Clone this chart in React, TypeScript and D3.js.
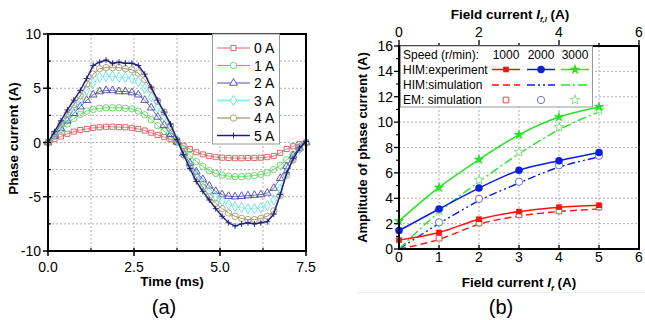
import * as d3 from "d3";
import React from "react";

// ---- (a) phase current waveforms ----
const timeMs = [0, 0.1875, 0.375, 0.5625, 0.75, 0.9375, 1.125, 1.3125, 1.5, 1.6875, 1.875, 2.0625, 2.25, 2.4375, 2.625, 2.8125, 3, 3.1875, 3.375, 3.5625, 3.75, 3.9375, 4.125, 4.3125, 4.5, 4.6875, 4.875, 5.0625, 5.25, 5.4375, 5.625, 5.8125, 6, 6.1875, 6.375, 6.5625, 6.75, 6.9375, 7.125, 7.3125, 7.5];
const current0A = [0, 0.3, 0.55, 0.8, 1.0, 1.15, 1.25, 1.35, 1.4, 1.45, 1.45, 1.42, 1.4, 1.35, 1.25, 1.1, 0.9, 0.7, 0.5, 0.3, 0.05, -0.3, -0.6, -0.9, -1.1, -1.25, -1.35, -1.4, -1.42, -1.45, -1.45, -1.43, -1.42, -1.4, -1.35, -1.25, -0.95, -0.6, -0.35, -0.15, 0];
const current1A = [0, 0.6, 1.2, 1.7, 2.2, 2.6, 2.9, 3.05, 3.15, 3.2, 3.2, 3.2, 3.15, 3.1, 2.9, 2.55, 2.1, 1.55, 1.05, 0.55, 0.0, -0.6, -1.2, -1.75, -2.2, -2.6, -2.85, -3.0, -3.1, -3.15, -3.15, -3.1, -3.05, -2.95, -2.8, -2.5, -2.1, -1.6, -1.1, -0.55, 0];
const current2A = [0, 0.6, 1.3, 2.0, 2.7, 3.3, 3.9, 4.4, 4.7, 4.8, 4.8, 4.7, 4.7, 4.6, 4.4, 3.9, 3.2, 2.35, 1.6, 0.75, 0.05, -1.0, -1.9, -2.7, -3.4, -4.0, -4.5, -4.8, -4.95, -5.0, -4.95, -4.9, -4.85, -4.8, -4.65, -4.2, -3.3, -2.2, -1.2, -0.5, 0];
const current3A = [0, 0.7, 1.5, 2.3, 3.1, 3.9, 4.8, 5.5, 6.0, 6.1, 6.1, 6.0, 6.0, 5.9, 5.6, 5.0, 4.2, 3.2, 2.4, 1.3, 0.2, -1.1, -2.1, -3.0, -3.8, -4.5, -5.0, -5.4, -5.7, -5.9, -6.0, -6.1, -6.1, -6.0, -5.8, -5.3, -4.3, -2.8, -1.5, -0.6, 0];
const current4A = [0, 0.8, 1.7, 2.6, 3.5, 4.3, 5.4, 6.3, 6.8, 6.9, 6.9, 6.9, 6.8, 6.7, 6.4, 5.8, 4.9, 3.8, 2.8, 1.5, 0.2, -1.1, -2.2, -3.2, -4.1, -5.0, -5.6, -6.1, -6.5, -6.8, -7.0, -7.1, -7.1, -7.0, -6.8, -6.3, -4.9, -3.0, -1.6, -0.6, 0];
const current5A = [0, 1.0, 2.0, 3.0, 3.9, 4.8, 5.9, 7.1, 7.4, 7.6, 7.3, 7.4, 7.3, 7.3, 7.1, 6.3, 5.1, 3.9, 2.8, 1.7, 0.3, -1.1, -2.4, -3.6, -4.5, -5.3, -6.1, -6.8, -7.4, -7.7, -7.5, -7.4, -7.5, -7.4, -7.3, -6.6, -4.8, -2.8, -1.5, -0.5, 0.1];
const fieldLabels = ["0 A", "1 A", "2 A", "3 A", "4 A", "5 A"];
const timeTicks = [0, 2.5, 5, 7.5];
const phaseTicks = [-10, -5, 0, 5, 10];

// ---- (b) amplitude vs field current ----
const fieldCurrent = [0, 1, 2, 3, 4, 5];
const himExp1000 = [0.7, 1.3, 2.35, 2.95, 3.3, 3.45];
const himExp2000 = [1.45, 3.15, 4.8, 6.2, 6.95, 7.6];
const himExp3000 = [2.2, 4.85, 7.05, 9.0, 10.4, 11.2];
const himSim1000 = [0, 0.75, 1.95, 2.6, 2.95, 3.15];
const himSim2000 = [0, 2.0, 3.8, 5.2, 6.45, 7.25];
const himSim3000 = [0, 2.9, 5.3, 7.5, 9.4, 10.8];
const emField = [1, 2, 3, 4, 5];
const emSim1000 = [0.85, 2.05, 2.7, 3.0, 3.3];
const emSim2000 = [2.1, 3.95, 5.3, 6.6, 7.35];
const emSim3000 = [3.0, 5.45, 7.65, 9.6, 10.95];
const speeds = ["1000", "2000", "3000"];
const ampTicks = [0, 2, 4, 6, 8, 10, 12, 14, 16];
const fieldTicks = [0, 1, 2, 3, 4, 5, 6];
const topTicks = [0, 2, 4, 6];

const FONT = "'Liberation Sans', Arial, Helvetica, sans-serif";

const sym = (t: d3.SymbolType, s: number) => d3.symbol().type(t).size(s)() as string;
const shapes: Record<string, string> = {
  square: sym(d3.symbolSquare, 26),
  circle: sym(d3.symbolCircle, 32),
  triangle: sym(d3.symbolTriangle, 26),
  diamond: sym(d3.symbolDiamond, 30),
  plus: "M-3,0H3M0,-3V3",
  fsquare: sym(d3.symbolSquare, 32),
  fcircle: sym(d3.symbolCircle, 44),
  fstar: sym(d3.symbolStar, 38),
  ostar: sym(d3.symbolStar, 30),
  osquare: sym(d3.symbolSquare, 32),
  ocircle: sym(d3.symbolCircle, 42),
};

function LeftChart() {
  const x = d3.scaleLinear().domain([0, 7.5]).range([48, 306]);
  const y = d3.scaleLinear().domain([-10, 10]).range([251, 34]);
  const series = [current0A, current1A, current2A, current3A, current4A, current5A];
  const look = [
    { mark: "#cf5b5b", line: "#e06666", shape: "square", lw: 1 },
    { mark: "#62d062", line: "#3cdc3c", shape: "circle", lw: 1 },
    { mark: "#4848a8", line: "#5050a8", shape: "triangle", lw: 1 },
    { mark: "#6adede", line: "#8af0f0", shape: "diamond", lw: 2 },
    { mark: "#a8996c", line: "#8f7e45", shape: "circle", lw: 1 },
    { mark: "#1c1c82", line: "#1c1c82", shape: "plus", lw: 1.3 },
  ];
  const line = d3.line<number>().x((_, i) => x(timeMs[i])).y((d) => y(d));
  const gx = [1.25, 2.5, 3.75, 5, 6.25];
  const gy = [-7.5, -5, -2.5, 0, 2.5, 5, 7.5];
  const [x0, x1] = x.range();
  const [y0, y1] = y.range();
  const legX = 212, legY = 34, legW = 67, legH = 110;
  return (
    <g fontFamily={FONT}>
      {gx.map((v) => (
        <line key={"gx" + v} x1={x(v)} x2={x(v)} y1={y1} y2={y0} stroke="#b0b0b0" strokeDasharray="2,2" />
      ))}
      {gy.map((v) => (
        <line key={"gy" + v} x1={x0} x2={x1} y1={y(v)} y2={y(v)} stroke="#b0b0b0" strokeDasharray="2,2" />
      ))}
      {series.map((s, k) => (
        <g key={"s" + k}>
          <path d={line(s) as string} fill="none" stroke={look[k].line} strokeWidth={k === 5 ? 1.4 : 0.8} />
          {s.map((v, i) => (
            <path key={i} d={shapes[look[k].shape]} transform={`translate(${x(timeMs[i])},${y(v)})`}
              fill="none" stroke={look[k].mark} strokeWidth={0.9} />
          ))}
        </g>
      ))}
      {/* frame */}
      <rect x={x0} y={y1} width={x1 - x0} height={y0 - y1} fill="none" stroke="#000" strokeWidth={2} />
      {/* ticks */}
      {timeTicks.map((v) => (
        <g key={"tx" + v}>
          <line x1={x(v)} x2={x(v)} y1={y0 - 3} y2={y0 + 5} stroke="#000" strokeWidth={1.5} />
          <text x={x(v)} y={272} fontSize={14} textAnchor="middle">{v.toFixed(1)}</text>
        </g>
      ))}
      {[1.25, 3.75, 6.25].map((v) => (
        <line key={"mx" + v} x1={x(v)} x2={x(v)} y1={y0} y2={y0 - 3} stroke="#000" strokeWidth={1.2} />
      ))}
      {phaseTicks.map((v) => (
        <g key={"ty" + v}>
          <line x1={x0 - 5} x2={x0 + 3} y1={y(v)} y2={y(v)} stroke="#000" strokeWidth={1.5} />
          <text x={41} y={y(v) + 5} fontSize={14} textAnchor="end">{v}</text>
        </g>
      ))}
      {[-7.5, -2.5, 2.5, 7.5].map((v) => (
        <line key={"my" + v} x1={x0} x2={x0 + 3} y1={y(v)} y2={y(v)} stroke="#000" strokeWidth={1.2} />
      ))}
      <text x={172} y={286} fontSize={13.5} fontWeight="bold" textAnchor="middle">Time (ms)</text>
      <text transform={`translate(18,${(y0 + y1) / 2 - 4}) rotate(-90)`} fontSize={13.5} fontWeight="bold" textAnchor="middle">
        Phase current (A)
      </text>
      <text x={164} y={314} fontSize={20} textAnchor="middle">(a)</text>
      {/* legend */}
      <rect x={legX + 0.5} y={legY} width={legW} height={legH} fill="#fff" stroke="#999" strokeWidth={1} />
      {fieldLabels.map((lab, k) => {
        const cy = 48 + k * 17.5;
        return (
          <g key={"l" + k}>
            <line x1={217} x2={250} y1={cy} y2={cy} stroke={look[k].line} strokeWidth={look[k].lw} />
            <path d={shapes[look[k].shape]} transform={`translate(233.5,${cy})`} fill="#fff" stroke={look[k].mark} strokeWidth={0.9} />
            <text x={254} y={cy + 5} fontSize={14}>{lab}</text>
          </g>
        );
      })}
    </g>
  );
}

function RightChart() {
  const x = d3.scaleLinear().domain([0, 6]).range([399, 639]);
  const y = d3.scaleLinear().domain([0, 16]).range([249, 46]);
  const [x0, x1] = x.range();
  const [y0, y1] = y.range();
  const colors = ["#ff1010", "#0a1ee6", "#22e622"];
  const emColors = ["#cc5050", "#6a78b0", "#8ede8e"];
  const dashes = ["7,4", "8,3,2,3,2,3", "9,3,2,3"];
  const exp = [himExp1000, himExp2000, himExp3000];
  const sim = [himSim1000, himSim2000, himSim3000];
  const em = [emSim1000, emSim2000, emSim3000];
  const fill = ["fsquare", "fcircle", "fstar"];
  const open = ["osquare", "ocircle", "ostar"];
  const line = d3.line<number>().x((_, i) => x(fieldCurrent[i])).y((d) => y(d)).curve(d3.curveMonotoneX);
  const legendX = [506, 541, 575];
  return (
    <g fontFamily={FONT}>
      {[1, 2, 3, 4, 5].map((v) => (
        <line key={"gx" + v} x1={x(v)} x2={x(v)} y1={y1} y2={y0} stroke="#b0b0b0" strokeDasharray="2,2" />
      ))}
      {[2, 4, 6, 8, 10, 12, 14].map((v) => (
        <line key={"gy" + v} x1={x0} x2={x1} y1={y(v)} y2={y(v)} stroke="#b0b0b0" strokeDasharray="2,2" />
      ))}
      {[0, 1, 2].map((k) => (
        <g key={"sim" + k}>
          <path d={line(sim[k]) as string} fill="none" stroke={colors[k]} strokeWidth={1.4} strokeDasharray={dashes[k]} />
          {em[k].map((v, i) => (
            <path key={i} d={shapes[open[k]]} transform={`translate(${x(emField[i])},${y(v)})`} fill="#fff" stroke={emColors[k]} strokeWidth={1} />
          ))}
        </g>
      ))}
      {[0, 1, 2].map((k) => (
        <g key={"exp" + k}>
          <path d={line(exp[k]) as string} fill="none" stroke={colors[k]} strokeWidth={1.5} />
          {exp[k].map((v, i) => (
            <path key={i} d={shapes[fill[k]]} transform={`translate(${x(fieldCurrent[i])},${y(v)})`} fill={colors[k]} />
          ))}
        </g>
      ))}
      <rect x={x0} y={y1} width={x1 - x0} height={y0 - y1} fill="none" stroke="#000" strokeWidth={2} />
      {fieldTicks.map((v) => (
        <g key={"tx" + v}>
          <line x1={x(v)} x2={x(v)} y1={y0} y2={y0 - 4} stroke="#000" strokeWidth={1.3} />
          <text x={x(v)} y={262} fontSize={14} textAnchor="middle">{v}</text>
        </g>
      ))}
      {fieldTicks.map((v) => (
        <line key={"tt" + v} x1={x(v)} x2={x(v)} y1={y1} y2={y1 - (v % 2 === 0 ? 6 : 3)} stroke="#000" strokeWidth={1.3} />
      ))}
      {topTicks.map((v) => (
        <text key={"tl" + v} x={x(v)} y={37} fontSize={14} textAnchor="middle">{v}</text>
      ))}
      {ampTicks.map((v) => (
        <g key={"ty" + v}>
          <line x1={x0 - 5} x2={x0} y1={y(v)} y2={y(v)} stroke="#000" strokeWidth={1.3} />
          <text x={393} y={y(v) + 5} fontSize={14} textAnchor="end">{v}</text>
        </g>
      ))}
      {[1, 3, 5, 7, 9, 11, 13, 15].map((v) => (
        <line key={"my" + v} x1={x0 - 3} x2={x0} y1={y(v)} y2={y(v)} stroke="#000" strokeWidth={1.1} />
      ))}
      <text x={510} y={19} fontSize={13.5} fontWeight="bold" textAnchor="middle">
        Field current <tspan fontStyle="italic">I</tspan>
        <tspan fontStyle="italic" fontSize={7.5} dy={3}>f,l</tspan>
        <tspan dy={-3}> (A)</tspan>
      </text>
      <text x={519} y={287} fontSize={13.5} fontWeight="bold" textAnchor="middle">
        Field current <tspan fontStyle="italic">I</tspan>
        <tspan fontStyle="italic" fontSize={8} dy={4}>f</tspan>
        <tspan dy={-4}> (A)</tspan>
      </text>
      <line x1={357} x2={645} y1={292.5} y2={292.5} stroke="#eeeeee" />
      <text transform={`translate(367,${(y0 + y1) / 2}) rotate(-90)`} fontSize={13} fontWeight="bold" textAnchor="middle">
        Amplitude of phase current (A)
      </text>
      <text x={501} y={314} fontSize={20} textAnchor="middle">(b)</text>
      {/* legend */}
      <rect x={400.5} y={46} width={192} height={61} fill="#fff" stroke="#999" strokeWidth={1} />
      <g fontSize={12}>
        <text x={403} y={58.5}>Speed (r/min):</text>
        {speeds.map((s, k) => (
          <text key={s} x={legendX[k]} y={58.5} textAnchor="middle">{s}</text>
        ))}
        <text x={403} y={73.5}>HIM:experiment</text>
        <text x={403} y={89}>HIM:simulation</text>
        <text x={403} y={104}>EM: simulation</text>
      </g>
      {[0, 1, 2].map((k) => (
        <g key={"lg" + k}>
          <line x1={legendX[k] - 14} x2={legendX[k] + 14} y1={69.5} y2={69.5} stroke={colors[k]} strokeWidth={1.5} />
          <path d={shapes[fill[k]]} transform={`translate(${legendX[k]},69.5)`} fill={colors[k]} />
          <line x1={legendX[k] - 14} x2={legendX[k] + 14} y1={85} y2={85} stroke={colors[k]} strokeWidth={1.4} strokeDasharray={dashes[k]} />
          <path d={shapes[open[k]]} transform={`translate(${legendX[k]},100)`} fill="#fff" stroke={emColors[k]} strokeWidth={1} />
        </g>
      ))}
    </g>
  );
}

export default function App() {
  return (
    <svg width={645} height={320} style={{ position: "absolute", left: 0, top: 0, background: "#fff" }}>
      <rect width={645} height={320} fill="#fff" />
      <LeftChart />
      <RightChart />
    </svg>
  );
}
